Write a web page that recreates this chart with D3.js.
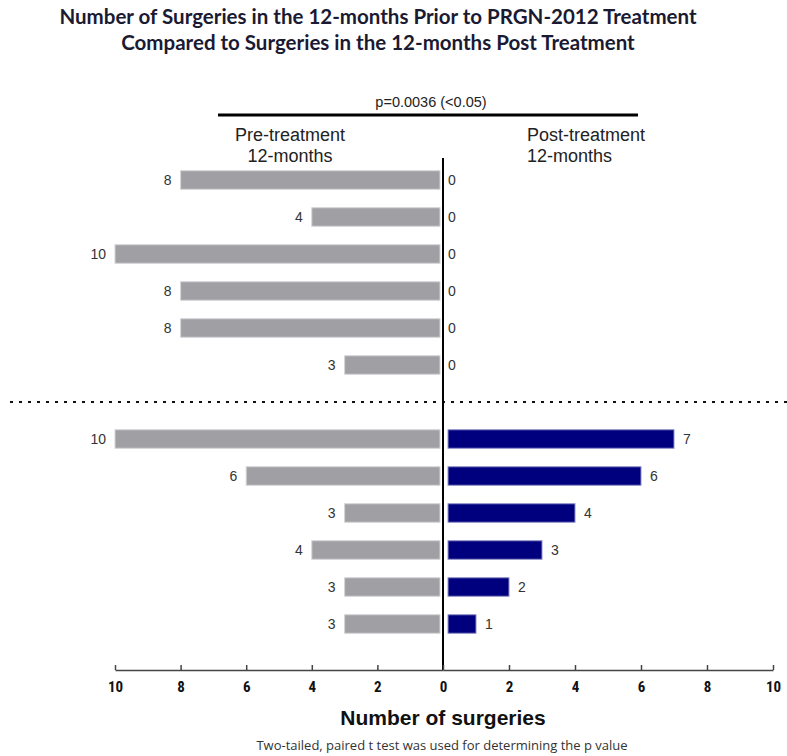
<!DOCTYPE html>
<html><head><meta charset="utf-8">
<script src="https://cdn.jsdelivr.net/npm/d3@7"></script>
<style>body{margin:0;background:#fff}</style>
</head><body>
<svg id="c" width="787" height="756"></svg>
<script>
const rows = ["r1","r2","r3","r4","r5","r6","sep","r7","r8","r9","r10","r11","r12"];
const patients = ["r1","r2","r3","r4","r5","r6","r7","r8","r9","r10","r11","r12"];
const preValues = [8,4,10,8,8,3,10,6,3,4,3,3];
const postValues = [0,0,0,0,0,0,7,6,4,3,2,1];
const tickValues = [0,2,4,6,8,10];
const titleLines = ["Number of Surgeries in the 12-months Prior to PRGN-2012 Treatment","Compared to Surgeries in the 12-months Post Treatment"];

const data = patients.map((p,i)=>({id:p, pre:preValues[i], post:postValues[i]}));

const svg = d3.select("#c");
const cx = 443;
const xL = d3.scaleLinear().domain([0,10]).range([cx,115]);
const xR = d3.scaleLinear().domain([0,10]).range([cx,773]);
const y = d3.scaleBand().domain(rows).range([161.5,642.5]).paddingInner(0.5).paddingOuter(0.25);
const bh = y.bandwidth();

// title
svg.append("g").selectAll("text").data(titleLines).join("text")
  .attr("x",378).attr("y",(d,i)=>24+i*26).attr("text-anchor","middle")
  .attr("font-family","Lato, 'Open Sans', sans-serif").attr("font-weight","bold")
  .attr("font-size",20.5).attr("fill","#1a1a33").text(d=>d);

// p-value bracket
svg.append("line").attr("x1",218).attr("x2",638).attr("y1",115).attr("y2",115)
  .attr("stroke","#000").attr("stroke-width",3);
svg.append("text").attr("x",431).attr("y",107).attr("text-anchor","middle")
  .attr("font-family","Liberation Sans, Arial, sans-serif").attr("font-size",14.5).attr("fill","#222")
  .text("p=0.0036 (<0.05)");

// group labels
const lab = svg.append("g").attr("font-family","Liberation Sans, Arial, sans-serif").attr("font-size",18).attr("fill","#222");
lab.append("text").attr("x",290).attr("y",141).attr("text-anchor","middle").text("Pre-treatment");
lab.append("text").attr("x",290).attr("y",162).attr("text-anchor","middle").text("12-months");
lab.append("text").attr("x",527).attr("y",141).text("Post-treatment");
lab.append("text").attr("x",527).attr("y",162).text("12-months");

// dotted separator
svg.append("line").attr("x1",10).attr("x2",787)
  .attr("y1",y("sep")+bh/2).attr("y2",y("sep")+bh/2)
  .attr("stroke","#111").attr("stroke-width",2.2).attr("stroke-dasharray","3,6");

// bars
svg.append("g").selectAll("rect").data(data).join("rect")
  .attr("x",d=>xL(d.pre)).attr("width",d=>xL(0)-xL(d.pre)-3)
  .attr("y",d=>y(d.id)).attr("height",bh)
  .attr("fill","#a0a0a4").attr("stroke","#d4d4d8").attr("stroke-width",1);
svg.append("g").selectAll("rect").data(data.filter(d=>d.post>0)).join("rect")
  .attr("x",xR(0)+5).attr("width",d=>xR(d.post)-xR(0)-5)
  .attr("y",d=>y(d.id)).attr("height",bh)
  .attr("fill","#00007e").attr("stroke","#8f8fc8").attr("stroke-width",1);

// value labels
const vl = svg.append("g").attr("font-family","Liberation Sans, Arial, sans-serif").attr("font-size",14).attr("fill","#333");
vl.selectAll("text.pre").data(data).join("text").attr("class","pre")
  .attr("x",d=>xL(d.pre)-9).attr("y",d=>y(d.id)+bh/2+5).attr("text-anchor","end")
  .text(d=>d.pre);
vl.selectAll("text.post").data(data).join("text").attr("class","post")
  .attr("x",d=>d.post>0 ? xR(d.post)+9 : xR(0)+5).attr("y",d=>y(d.id)+bh/2+5)
  .text(d=>d.post);

// center line
svg.append("line").attr("x1",cx).attr("x2",cx).attr("y1",158).attr("y2",670)
  .attr("stroke","#000").attr("stroke-width",2);

// axes
const axY = 670;
const axL = d3.axisBottom(xL).tickValues(tickValues).tickSize(0).tickFormat(d3.format("d"));
const axR = d3.axisBottom(xR).tickValues(tickValues.slice(1)).tickSize(0).tickFormat(d3.format("d"));
function styleAxis(g){
  g.select(".domain").attr("stroke","#444").attr("stroke-width",1.5);
  g.selectAll(".tick line").attr("y2",-5).attr("stroke","#444").attr("stroke-width",1.5);
  g.selectAll(".tick text").attr("y",11).attr("dy","0.71em")
    .attr("font-family","'Liberation Sans Narrow', 'Roboto Condensed', 'Liberation Sans', Arial, sans-serif")
    .attr("font-weight","bold").attr("font-size",15).attr("fill","#111");
}
svg.append("g").attr("transform",`translate(0,${axY})`).call(axL).call(styleAxis);
svg.append("g").attr("transform",`translate(0,${axY})`).call(axR).call(styleAxis);

// axis title
svg.append("text").attr("x",443).attr("y",725).attr("text-anchor","middle")
  .attr("font-family","Liberation Sans, Arial, sans-serif").attr("font-weight","bold").attr("font-size",21).attr("fill","#111")
  .text("Number of surgeries");
svg.append("text").attr("x",442).attr("y",750).attr("text-anchor","middle")
  .attr("font-family","'Open Sans', sans-serif").attr("font-size",13).attr("fill","#333")
  .text("Two-tailed, paired t test was used for determining the p value");
</script>
</body></html>
